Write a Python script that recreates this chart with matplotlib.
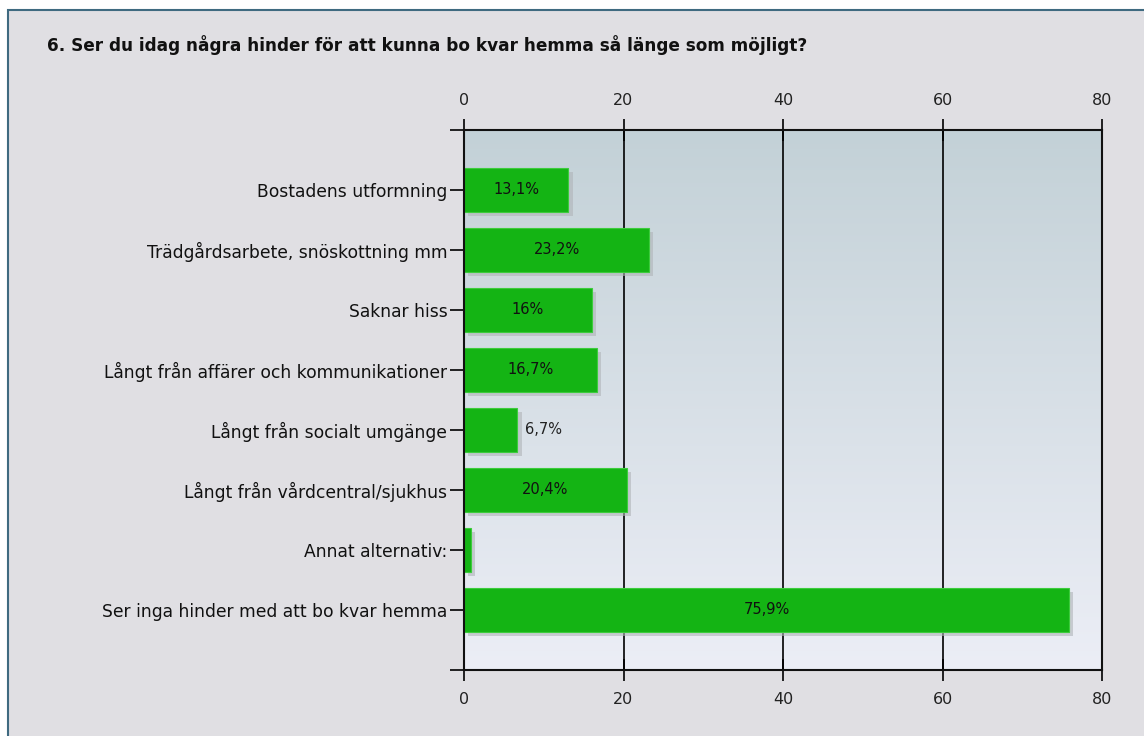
import numpy as np
import matplotlib
matplotlib.use("Agg")
import matplotlib.pyplot as plt
from matplotlib.colors import LinearSegmentedColormap
from matplotlib.patches import Rectangle
import matplotlib.patheffects as pe

# data
categories = [
    "Bostadens utformning",
    "Trädgårdsarbete, snöskottning mm",
    "Saknar hiss",
    "Långt från affärer och kommunikationer",
    "Långt från socialt umgänge",
    "Långt från vårdcentral/sjukhus",
    "Annat alternativ:",
    "Ser inga hinder med att bo kvar hemma",
]
values = [13.1, 23.2, 16.0, 16.7, 6.7, 20.4, 0.9, 75.9]
value_labels = ["13,1%", "23,2%", "16%", "16,7%", "6,7%", "20,4%", "", "75,9%"]
x_ticks = [0, 20, 40, 60, 80]
title = "6. Ser du idag några hinder för att kunna bo kvar hemma så länge som möjligt?"

plt.rcParams['font.family'] = ['DejaVu Sans']

fig = plt.figure(figsize=(11.44, 7.36), dpi=100)
fig.patch.set_facecolor("white")
# panel background + border
fig.patches.append(Rectangle((8 / 1144, -0.01), 1.0, 1 - 10 / 736 + 0.01,
                             transform=fig.transFigure, facecolor="#e0dfe3",
                             edgecolor="#3f6a80", linewidth=1.5, zorder=-10))

fig.text(47 / 1144, 1 - 45 / 736, title, fontsize=12.2, fontweight="bold",
         va="center", ha="left", color="#111111")

ax = fig.add_axes([464 / 1144, 1 - 670 / 736, 638 / 1144, 540 / 736])
ax.set_facecolor("none")

# gradient background (darker at the top)
cmap = LinearSegmentedColormap.from_list("bg", ["#c3d1d7", "#eceef6"])
grad = np.linspace(0, 1, 256).reshape(-1, 1)
ax.imshow(grad, cmap=cmap, aspect="auto", extent=(0, 1, 0, 1), origin="upper",
          transform=ax.transAxes, zorder=0)

y = np.arange(len(categories))
bars = ax.barh(y, values, height=0.73, color="#14b414", edgecolor="#3ccc3c",
               linewidth=0.8, zorder=3)
for b in bars:
    b.set_path_effects([pe.SimplePatchShadow(offset=(3, -3), shadow_rgbFace="#b0b4b8", alpha=0.6),
                        pe.Normal()])

for v, yy, lab in zip(values, y, value_labels):
    if not lab:
        continue
    if v > 10:
        ax.text(v / 2, yy, lab, ha="center", va="center", fontsize=10.5,
                color="#111111", zorder=5)
    else:
        ax.text(v + 1, yy, lab, ha="left", va="center", fontsize=10.5,
                color="#222222", zorder=5)

ax.set_xlim(0, 80)
ax.set_ylim(8, -1)
ax.set_yticks(y)
ax.set_yticklabels(categories, fontsize=12.3, color="#111111")
ax.set_yticks([-1, 8], minor=True)
ax.set_xticks(x_ticks)
ax.tick_params(axis="x", which="both", top=True, labeltop=True, bottom=True,
               labelbottom=True, direction="inout", length=16, width=1.2,
               labelsize=11.5, pad=8, labelcolor="#222222")
ax.tick_params(axis="y", which="both", direction="out", length=10, width=1.2, pad=2)
ax.grid(axis="x", color="black", linewidth=1.2, zorder=1)
ax.set_axisbelow(True)
for s in ax.spines.values():
    s.set_linewidth(1.5)
    s.set_color("#111111")
    s.set_zorder(4)

fig.savefig("out.png", dpi=100)
